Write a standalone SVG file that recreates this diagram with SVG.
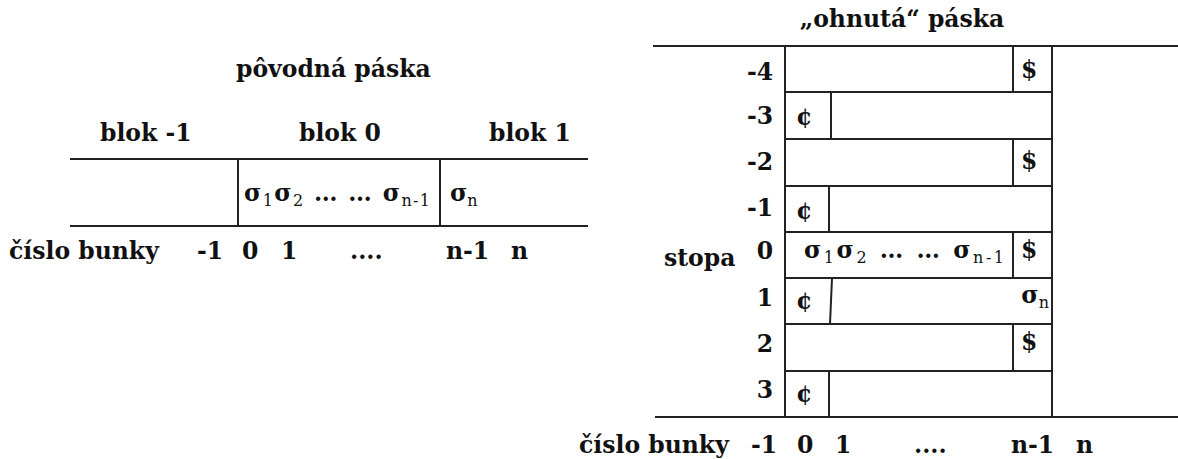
<svg xmlns="http://www.w3.org/2000/svg" width="1178" height="459" viewBox="0 0 1178 459">
  <style>
    .t { font-family: "DejaVu Serif", "Liberation Serif", serif; font-weight: bold; font-size: 23.5px; fill: #111; }
    .s { font-size: 16px; font-weight: normal; }
    .ln { stroke: #222; stroke-width: 2; fill: none; }
    .r { text-anchor: end; }
  </style>

  <!-- original tape -->
  <g id="original-tape">
    <text class="t" x="236" y="77">pôvodná páska</text>
    <text class="t" x="100" y="141">blok -1</text>
    <text class="t" x="299" y="141">blok 0</text>
    <text class="t" x="489" y="141">blok 1</text>
    <g id="tape-lines">
      <line class="ln" x1="70" y1="159" x2="588" y2="159"/>
      <line class="ln" x1="70" y1="226" x2="588" y2="226"/>
      <line class="ln" x1="238" y1="159" x2="238" y2="226"/>
      <line class="ln" x1="440" y1="159" x2="440" y2="226"/>
    </g>
    <g id="block0-content">
      <text class="t" x="244" y="201" textLength="186" lengthAdjust="spacing">σ<tspan class="s" dy="5">1</tspan><tspan dy="-5">σ</tspan><tspan class="s" dy="5">2</tspan><tspan dy="-5"> … … σ</tspan><tspan class="s" dy="5">n-1</tspan></text>
    </g>
    <g id="block1-content">
      <text class="t" x="450" y="201">σ<tspan class="s" dy="5">n</tspan></text>
    </g>
    <g id="cell-numbers">
      <text class="t" x="9" y="259">číslo bunky</text>
      <text class="t" x="197" y="259">-1</text>
      <text class="t" x="242" y="259">0</text>
      <text class="t" x="281" y="259">1</text>
      <text class="t" x="350" y="259">....</text>
      <text class="t" x="446" y="259">n-1</text>
      <text class="t" x="511" y="259">n</text>
    </g>
  </g>

  <!-- folded tape -->
  <g id="folded-tape">
    <text class="t" x="902" y="27" text-anchor="middle">„ohnutá“ páska</text>
    <g id="folded-lines">
      <line class="ln" x1="653" y1="46" x2="1178" y2="46"/>
      <line class="ln" x1="655" y1="417" x2="1178" y2="417"/>
      <line class="ln" x1="785" y1="46" x2="785" y2="417"/>
      <line class="ln" x1="1052" y1="46" x2="1052" y2="417"/>
    </g>

    <g id="track-m4">
      <line class="ln" x1="1013" y1="46" x2="1013" y2="92"/>
      <line class="ln" x1="785" y1="92" x2="1052" y2="92"/>
      <text class="t r" x="773" y="80">-4</text>
      <text class="t" x="1021" y="78">$</text>
    </g>
    <g id="track-m3">
      <line class="ln" x1="831" y1="92" x2="831" y2="139"/>
      <line class="ln" x1="785" y1="139" x2="1052" y2="139"/>
      <text class="t r" x="773" y="124">-3</text>
      <text class="t" x="796" y="125">¢</text>
    </g>
    <g id="track-m2">
      <line class="ln" x1="1013" y1="139" x2="1013" y2="186"/>
      <line class="ln" x1="785" y1="186" x2="1052" y2="186"/>
      <text class="t r" x="773" y="170">-2</text>
      <text class="t" x="1021" y="169">$</text>
    </g>
    <g id="track-m1">
      <line class="ln" x1="829" y1="186" x2="829" y2="232"/>
      <line class="ln" x1="785" y1="232" x2="1052" y2="232"/>
      <text class="t r" x="773" y="216">-1</text>
      <text class="t" x="796" y="219">¢</text>
    </g>
    <g id="track-0">
      <line class="ln" x1="1013" y1="232" x2="1013" y2="278"/>
      <line class="ln" x1="785" y1="278" x2="1052" y2="278"/>
      <text class="t" x="664" y="266">stopa</text>
      <text class="t r" x="773" y="259">0</text>
      <text class="t" x="804" y="258" textLength="200" lengthAdjust="spacing">σ<tspan class="s" dy="5">1</tspan><tspan dy="-5">σ</tspan><tspan class="s" dy="5">2</tspan><tspan dy="-5">  … …  σ</tspan><tspan class="s" dy="5">n-1</tspan></text>
      <text class="t" x="1021" y="258">$</text>
    </g>
    <g id="track-1">
      <line class="ln" x1="832" y1="278" x2="830" y2="324"/>
      <line class="ln" x1="785" y1="324" x2="1052" y2="324"/>
      <text class="t r" x="773" y="306">1</text>
      <text class="t" x="796" y="309">¢</text>
      <text class="t r" x="1049" y="303">σ<tspan class="s" dy="5">n</tspan></text>
    </g>
    <g id="track-2">
      <line class="ln" x1="1013" y1="324" x2="1013" y2="371"/>
      <line class="ln" x1="785" y1="371" x2="1052" y2="371"/>
      <text class="t r" x="773" y="352">2</text>
      <text class="t" x="1021" y="350">$</text>
    </g>
    <g id="track-3">
      <line class="ln" x1="829" y1="371" x2="829" y2="417"/>
      <text class="t r" x="773" y="398">3</text>
      <text class="t" x="796" y="402">¢</text>
    </g>

    <g id="folded-cell-numbers">
      <text class="t" x="579" y="453">číslo bunky</text>
      <text class="t" x="751" y="453">-1</text>
      <text class="t" x="797" y="453">0</text>
      <text class="t" x="835" y="453">1</text>
      <text class="t" x="914" y="453">....</text>
      <text class="t" x="1011" y="453">n-1</text>
      <text class="t" x="1076" y="453">n</text>
    </g>
  </g>

  <!-- no connectors in this figure -->
  <g id="connectors"/>
</svg>
